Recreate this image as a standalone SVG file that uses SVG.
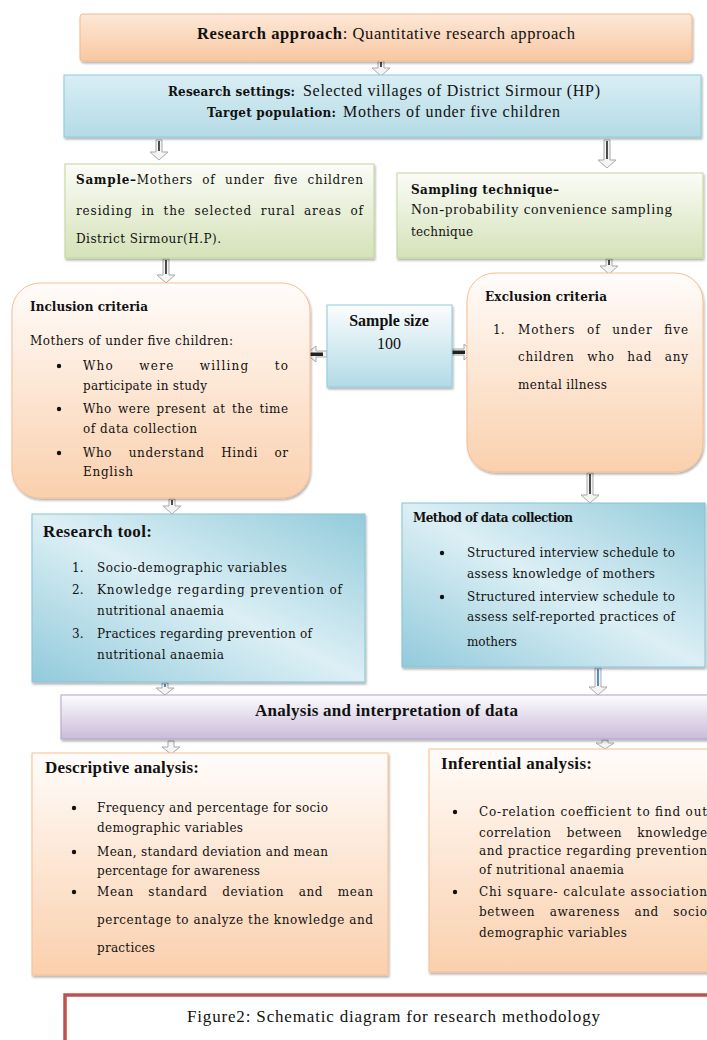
<svg xmlns="http://www.w3.org/2000/svg" width="707" height="1040" viewBox="0 0 707 1040">
<defs>
<linearGradient id="gTop" x1="0" y1="0" x2="0" y2="1"><stop offset="0" stop-color="#fde8d8"/><stop offset="1" stop-color="#f8c7a1"/></linearGradient>
<linearGradient id="gBlue" x1="0" y1="0" x2="0" y2="1"><stop offset="0" stop-color="#d9eef4"/><stop offset="1" stop-color="#b4dbe6"/></linearGradient>
<linearGradient id="gGreen" x1="0" y1="0" x2="0" y2="1"><stop offset="0" stop-color="#fbfcf7"/><stop offset="1" stop-color="#d5e2b9"/></linearGradient>
<linearGradient id="gPeach" x1="0" y1="0" x2="0" y2="1"><stop offset="0" stop-color="#fffcfa"/><stop offset="1" stop-color="#fad0ad"/></linearGradient>
<linearGradient id="gSample" x1="0" y1="0" x2="0" y2="1"><stop offset="0" stop-color="#fbfdfe"/><stop offset="1" stop-color="#b2dae6"/></linearGradient>
<linearGradient id="gTool" x1="1" y1="0" x2="0" y2="1"><stop offset="0" stop-color="#93cbdb"/><stop offset="0.5" stop-color="#dceff5"/><stop offset="1" stop-color="#92cadb"/></linearGradient>
<linearGradient id="gPurple" x1="0" y1="0" x2="0" y2="1"><stop offset="0" stop-color="#fdfcfe"/><stop offset="1" stop-color="#c9bcd9"/></linearGradient>
<filter id="sh" x="-5%" y="-5%" width="110%" height="120%"><feDropShadow dx="1" dy="2" stdDeviation="1" flood-color="#000" flood-opacity="0.3"/></filter>
</defs>
<style>
.c{font-family:"DejaVu Serif","Liberation Serif",serif;font-size:12px;fill:#111}
.t{font-family:"Liberation Serif",serif;fill:#111}
.b{font-weight:bold}
.arw{fill:#f4f4f4;stroke:#a9a9a9;stroke-width:1}
.shaft{stroke:#222;stroke-width:1.6;fill:none}
.bshaft{stroke:#2e75b6;stroke-width:1.6;fill:none}
.bul{fill:#111}
</style>
<rect width="707" height="1040" fill="#fff"/>

<g id="connectors">
<path class="arw" d="M378 61H384V68H390L381 76L372 68H378Z"/><path class="shaft" d="M381 62V67"/>
<path class="arw" d="M156 140H162V152H168L159 160L150 152H156Z"/><path class="shaft" d="M159 141V151"/>
<path class="arw" d="M604 140H610V160H616L607 168L598 160H604Z"/><path class="shaft" d="M607 141V159"/>
<path class="arw" d="M163 259H169V275H175L166 283L157 275H163Z"/><path class="shaft" d="M166 260V274"/>
<path class="arw" d="M606 259H612V266H618L609 274L600 266H606Z"/><path class="shaft" d="M609 260V265"/>
<path class="arw" d="M587 473H593V495H599L590 503L581 495H587Z"/><path class="shaft" d="M590 474V494"/>
<path class="arw" d="M169 499H175V506H181L172 514L163 506H169Z"/><path class="shaft" d="M172 500V505"/>
<path class="arw" d="M162 683H168V688H174L165 695L156 688H162Z"/><path class="bshaft" d="M165 684V687"/>
<path class="arw" d="M595 668H601V687H607L598 695L589 687H595Z"/><path class="bshaft" d="M598 669V686"/>
<path class="arw" d="M168 741H174V747H180L171 754L162 747H168Z"/>
<path class="arw" d="M602 740H608V743H614L605 749L596 743H602Z"/>
<path class="arw" d="M327 351H316V346L306 354L316 362V357H327Z"/><rect x="309" y="352.5" width="14" height="3.5" fill="#222"/>
<path class="arw" d="M452 349H464V344L473 352L464 360V355H452Z"/><rect x="450" y="350.5" width="15" height="3.5" fill="#222"/>
</g>

<g id="approach">
<rect x="80" y="14" width="612" height="47" rx="3" fill="url(#gTop)" stroke="#f4b98e" filter="url(#sh)"/>
<text class="t" x="197" y="39" font-size="16.5" textLength="378" lengthAdjust="spacing"><tspan font-weight="bold">Research approach</tspan>: Quantitative research approach</text>
</g>

<g id="settings">
<rect x="64" y="75" width="637" height="62" fill="url(#gBlue)" stroke="#8ccada" filter="url(#sh)"/>
<text class="c b" x="168" y="96" font-size="11" textLength="127" lengthAdjust="spacing">Research settings:</text>
<text class="t" x="303" y="96" font-size="16" textLength="297" lengthAdjust="spacing">Selected villages of District Sirmour (HP)</text>
<text class="c b" x="207" y="117" font-size="11" textLength="129" lengthAdjust="spacing">Target population:</text>
<text class="t" x="343" y="117" font-size="16" textLength="217" lengthAdjust="spacing">Mothers of under five children</text>
</g>

<g id="sample">
<rect x="65" y="164" width="309" height="94" fill="url(#gGreen)" stroke="#c3d69b" filter="url(#sh)"/>
<text class="c" x="76" y="184" word-spacing="5" textLength="287" lengthAdjust="spacing"><tspan class="b">Sample–</tspan>Mothers of under five children</text>
<text class="c" x="76" y="215" word-spacing="4" textLength="287" lengthAdjust="spacing">residing in the selected rural areas of</text>
<text class="c" x="76" y="243" textLength="145" lengthAdjust="spacing">District Sirmour(H.P).</text>
</g>

<g id="technique">
<rect x="397" y="173" width="306" height="85" fill="url(#gGreen)" stroke="#c3d69b" filter="url(#sh)"/>
<text class="c b" x="411" y="194" textLength="148" lengthAdjust="spacing">Sampling technique–</text>
<text class="t" x="411" y="214" font-size="15" textLength="261" lengthAdjust="spacing">Non-probability convenience  sampling</text>
<text class="c" x="411" y="236" textLength="62" lengthAdjust="spacing">technique</text>
</g>

<g id="inclusion">
<rect x="12" y="283" width="298" height="215" rx="28" fill="url(#gPeach)" stroke="#f9be90" filter="url(#sh)"/>
<text class="c b" x="30" y="311" textLength="118" lengthAdjust="spacing">Inclusion criteria</text>
<text class="c" x="30" y="345" textLength="203" lengthAdjust="spacing">Mothers of under five children:</text>
<circle class="bul" cx="59" cy="366" r="2.2"/>
<text class="c" x="83" y="370" word-spacing="20" textLength="205" lengthAdjust="spacing">Who were willing to</text>
<text class="c" x="83" y="390" textLength="124" lengthAdjust="spacing">participate in study</text>
<circle class="bul" cx="59" cy="409" r="2.2"/>
<text class="c" x="83" y="413" word-spacing="2" textLength="205" lengthAdjust="spacing">Who were present at the time</text>
<text class="c" x="83" y="433" textLength="114" lengthAdjust="spacing">of data collection</text>
<circle class="bul" cx="59" cy="453" r="2.2"/>
<text class="c" x="83" y="457" word-spacing="12" textLength="205" lengthAdjust="spacing">Who understand Hindi or</text>
<text class="c" x="83" y="476" textLength="50" lengthAdjust="spacing">English</text>
</g>

<g id="samplesize">
<rect x="327" y="305" width="125" height="82" fill="url(#gSample)" stroke="#8fcadb" filter="url(#sh)"/>
<text class="t b" x="389" y="326" font-size="16" text-anchor="middle">Sample size</text>
<text class="t" x="389" y="349" font-size="16" text-anchor="middle">100</text>
</g>

<g id="exclusion">
<rect x="467" y="273" width="236" height="199" rx="28" fill="url(#gPeach)" stroke="#f9be90" filter="url(#sh)"/>
<text class="c b" x="485" y="301" textLength="122" lengthAdjust="spacing">Exclusion criteria</text>
<text class="c" x="493" y="334">1.</text>
<text class="c" x="518" y="334" word-spacing="7" textLength="170" lengthAdjust="spacing">Mothers of under five</text>
<text class="c" x="518" y="361" word-spacing="8" textLength="170" lengthAdjust="spacing">children who had any</text>
<text class="c" x="518" y="389" textLength="89" lengthAdjust="spacing">mental illness</text>
</g>

<g id="tool">
<rect x="32" y="514" width="333" height="168" fill="url(#gTool)" stroke="#86c3d4" filter="url(#sh)"/>
<text class="t b" x="43" y="537" font-size="17" textLength="109" lengthAdjust="spacing">Research tool:</text>
<text class="c" x="72" y="572">1.</text>
<text class="c" x="97" y="572" textLength="190" lengthAdjust="spacing">Socio-demographic variables</text>
<text class="c" x="72" y="594">2.</text>
<text class="c" x="97" y="594" textLength="245" lengthAdjust="spacing">Knowledge regarding prevention of</text>
<text class="c" x="97" y="615" textLength="127" lengthAdjust="spacing">nutritional anaemia</text>
<text class="c" x="72" y="638">3.</text>
<text class="c" x="97" y="638" textLength="215" lengthAdjust="spacing">Practices regarding prevention of</text>
<text class="c" x="97" y="659" textLength="127" lengthAdjust="spacing">nutritional anaemia</text>
</g>

<g id="method">
<rect x="402" y="503" width="303" height="164" fill="url(#gTool)" stroke="#86c3d4" filter="url(#sh)"/>
<text class="c b" x="413" y="522" font-size="11" textLength="160" lengthAdjust="spacing">Method of data collection</text>
<circle class="bul" cx="442" cy="553" r="2.2"/>
<text class="c" x="467" y="557" textLength="208" lengthAdjust="spacing">Structured interview schedule to</text>
<text class="c" x="467" y="578" textLength="188" lengthAdjust="spacing">assess knowledge of mothers</text>
<circle class="bul" cx="442" cy="597" r="2.2"/>
<text class="c" x="467" y="601" textLength="208" lengthAdjust="spacing">Structured interview schedule to</text>
<text class="c" x="467" y="621" textLength="208" lengthAdjust="spacing">assess self-reported practices of</text>
<text class="c" x="467" y="646" textLength="50" lengthAdjust="spacing">mothers</text>
</g>

<g id="analysis">
<rect x="61" y="695" width="660" height="44" fill="url(#gPurple)" stroke="#b3a2c7" filter="url(#sh)"/>
<text class="t b" x="255" y="716" font-size="17" textLength="263" lengthAdjust="spacing">Analysis and interpretation of data</text>
</g>

<g id="descriptive">
<rect x="32" y="753" width="356" height="222" fill="url(#gPeach)" stroke="#f9be90" filter="url(#sh)"/>
<text class="t b" x="45" y="773" font-size="17" textLength="154" lengthAdjust="spacing">Descriptive analysis:</text>
<circle class="bul" cx="74" cy="808" r="2.2"/>
<text class="c" x="97" y="812" textLength="231" lengthAdjust="spacing">Frequency and percentage for socio</text>
<text class="c" x="97" y="832" textLength="146" lengthAdjust="spacing">demographic variables</text>
<circle class="bul" cx="74" cy="852" r="2.2"/>
<text class="c" x="97" y="856" textLength="231" lengthAdjust="spacing">Mean, standard deviation and mean</text>
<text class="c" x="97" y="875" textLength="163" lengthAdjust="spacing">percentage for awareness</text>
<circle class="bul" cx="74" cy="892" r="2.2"/>
<text class="c" x="97" y="896" word-spacing="10" textLength="276" lengthAdjust="spacing">Mean standard deviation and mean</text>
<text class="c" x="97" y="924" textLength="276" lengthAdjust="spacing">percentage to analyze the knowledge and</text>
<text class="c" x="97" y="952" textLength="58" lengthAdjust="spacing">practices</text>
</g>

<g id="inferential">
<rect x="429" y="749" width="290" height="223" fill="url(#gPeach)" stroke="#f9be90" filter="url(#sh)"/>
<text class="t b" x="441" y="769" font-size="17" textLength="151" lengthAdjust="spacing">Inferential analysis:</text>
<circle class="bul" cx="455" cy="812" r="2.2"/>
<text class="c" x="479" y="816" textLength="228" lengthAdjust="spacing">Co-relation coefficient to find out</text>
<text class="c" x="479" y="837" word-spacing="11" textLength="228" lengthAdjust="spacing">correlation between knowledge</text>
<text class="c" x="479" y="855" textLength="228" lengthAdjust="spacing">and practice regarding prevention</text>
<text class="c" x="479" y="874" textLength="145" lengthAdjust="spacing">of nutritional anaemia</text>
<circle class="bul" cx="455" cy="892" r="2.2"/>
<text class="c" x="479" y="896" textLength="228" lengthAdjust="spacing">Chi square- calculate association</text>
<text class="c" x="479" y="916" word-spacing="10" textLength="228" lengthAdjust="spacing">between awareness and socio</text>
<text class="c" x="479" y="937" textLength="148" lengthAdjust="spacing">demographic variables</text>
</g>

<g id="caption">
<rect x="65" y="995" width="660" height="60" fill="#fff" stroke="#c0504d" stroke-width="3.5"/>
<text class="t" x="187" y="1022" font-size="17" textLength="413" lengthAdjust="spacing">Figure2: Schematic diagram for research methodology</text>
</g>
</svg>
